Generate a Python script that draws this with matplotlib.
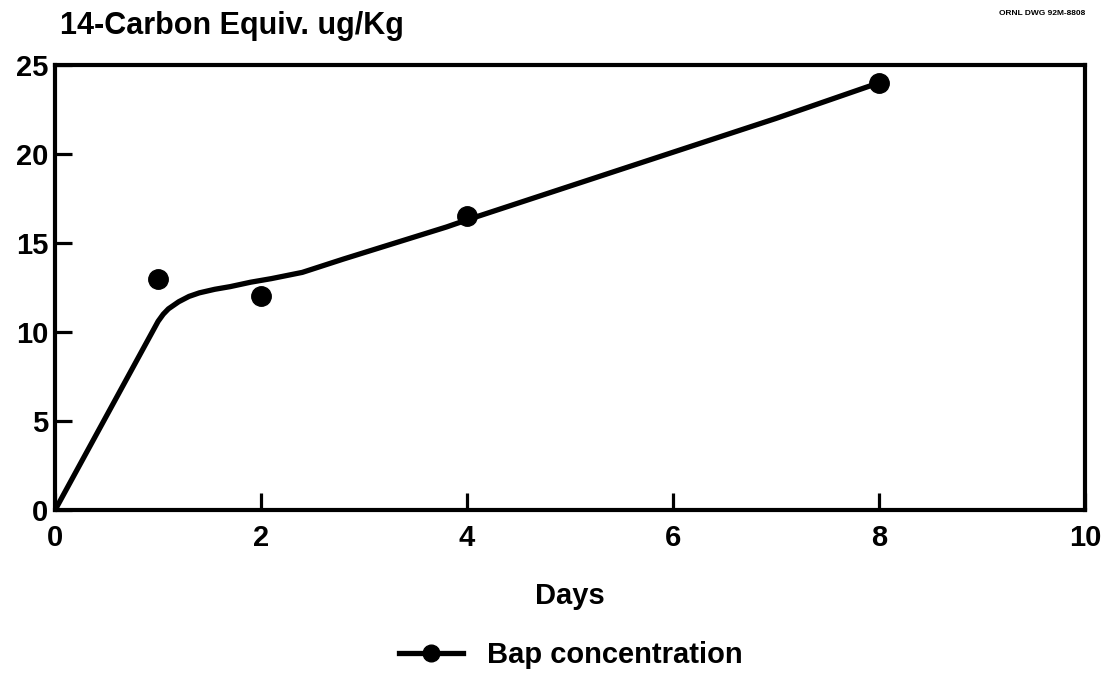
import matplotlib
matplotlib.use("Agg")
import matplotlib.pyplot as plt

plt.rcParams["font.family"] = ["Liberation Sans", "DejaVu Sans"]
plt.rcParams["font.weight"] = "bold"

# measured points
days = [1, 2, 4, 8]
bap = [13.0, 12.0, 16.5, 24.0]

# fitted curve drawn through the data
curve_days = [0, 1.0, 1.05, 1.1, 1.15, 1.2, 1.3, 1.4, 1.55, 1.7, 1.9, 2.1, 2.4,
              2.8, 3.3, 3.8, 4.0, 5.0, 6.0, 7.0, 8.0]
curve_bap = [0, 10.6, 11.0, 11.3, 11.5, 11.7, 12.0, 12.2, 12.4, 12.55, 12.8, 13.0, 13.35,
             14.1, 15.0, 15.9, 16.3, 18.2, 20.1, 22.0, 24.0]

x_ticks = [0, 2, 4, 6, 8, 10]
y_ticks = [0, 5, 10, 15, 20, 25]

fig = plt.figure(figsize=(11.02, 6.75), dpi=100)
ax = fig.add_axes([0.050, 0.2444, 0.9346, 0.6593])

ax.plot(curve_days, curve_bap, color="black", lw=3.8, solid_capstyle="round",
        solid_joinstyle="round")
ax.plot(days, bap, "o", color="black", ms=14)

ax.set_xlim(0, 10)
ax.set_ylim(0, 25)
ax.set_xticks(x_ticks)
ax.set_yticks(y_ticks)
ax.tick_params(direction="in", length=12, width=2.3, labelsize=21, pad=5)
ax.tick_params(axis="x", pad=10)
for lab in ax.get_xticklabels() + ax.get_yticklabels():
    lab.set_fontweight("bold")
for s in ax.spines.values():
    s.set_linewidth(3)

ax.set_xlabel("Days", fontsize=21, fontweight="bold", labelpad=22)
fig.text(0.054, 0.962, "14-Carbon Equiv. ug/Kg", fontsize=22, fontweight="bold",
         ha="left", va="center")
fig.text(0.985, 0.985, "ORNL DWG 92M-8808", fontsize=6, fontweight="bold",
         ha="right", va="top")

handle, = ax.plot([], [], "-o", color="black", lw=3.8, ms=12)
fig.legend([handle], ["Bap concentration"], loc="center", bbox_to_anchor=(0.518, 0.03),
           frameon=False, handlelength=2.2, handletextpad=0.8,
           prop={"weight": "bold", "size": 21})

fig.savefig("out.png", dpi=100)
